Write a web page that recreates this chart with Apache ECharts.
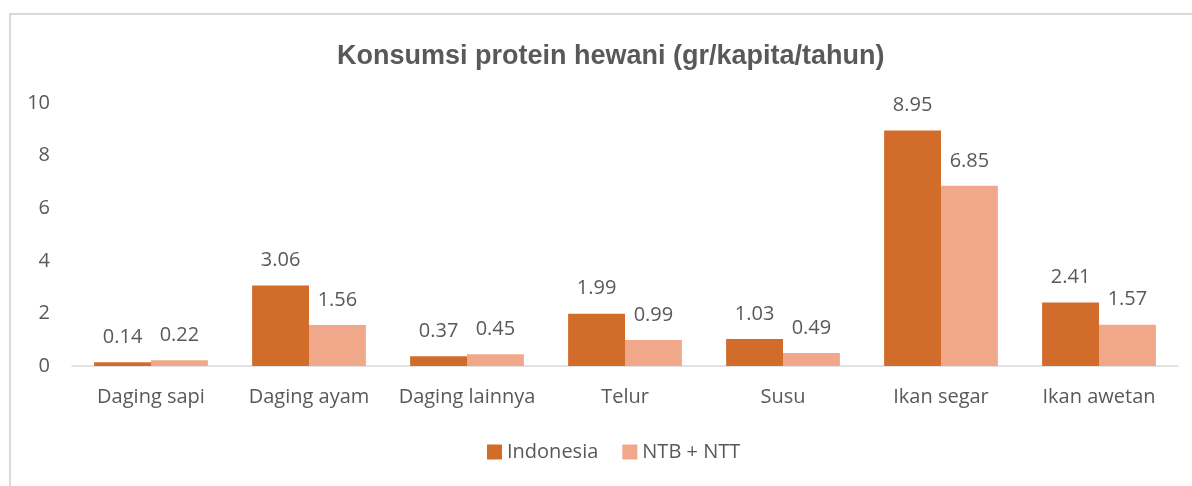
<!DOCTYPE html>
<html>
<head>
<meta charset="utf-8">
<script src="https://cdn.jsdelivr.net/npm/echarts@6/dist/echarts.min.js"></script>
<style>
  html, body { margin: 0; padding: 0; background: #fff; }
  #frame { position: absolute; left: 9px; top: 13px; right: 0; bottom: 0; border-top: 2px solid #d9d9d9; border-left: 2px solid #d9d9d9; }
  #chart { position: absolute; left: 0; top: 0; width: 1192px; height: 486px; }
</style>
</head>
<body>
<div id="frame"></div>
<div id="chart"></div>
<script>
const categories = ['Daging sapi', 'Daging ayam', 'Daging lainnya', 'Telur', 'Susu', 'Ikan segar', 'Ikan awetan']
const indonesia = [0.14, 3.06, 0.37, 1.99, 1.03, 8.95, 2.41]
const ntbNtt = [0.22, 1.56, 0.45, 0.99, 0.49, 6.85, 1.57]
const yTicks = { min: 0, max: 10, interval: 2 }

const FONT = '"Open Sans", "Liberation Sans", sans-serif'
const TEXT = '#595959'

const chart = echarts.init(document.getElementById('chart'))

const labelStyle = {
  show: true,
  position: 'top',
  distance: 15,
  color: TEXT,
  fontFamily: FONT,
  fontSize: 20
}

chart.setOption({
  animation: false,
  title: {
    text: 'Konsumsi protein hewani (gr/kapita/tahun)',
    left: 332,
    top: 38,
    textStyle: { color: TEXT, fontFamily: '"Liberation Sans", Arial, sans-serif', fontSize: 27, fontWeight: 'bold' }
  },
  legend: {
    bottom: 19,
    left: 482,
    itemWidth: 15,
    itemHeight: 15,
    itemGap: 24,
    icon: 'rect',
    textStyle: { color: TEXT, fontFamily: FONT, fontSize: 20 }
  },
  grid: { left: 72, right: 14, top: 103, bottom: 120 },
  xAxis: {
    type: 'category',
    data: categories,
    axisLine: { lineStyle: { color: '#d9d9d9', width: 1.5 } },
    axisTick: { show: false },
    axisLabel: { interval: 0, color: TEXT, fontFamily: FONT, fontSize: 20, margin: 21 }
  },
  yAxis: {
    type: 'value',
    min: yTicks.min,
    max: yTicks.max,
    interval: yTicks.interval,
    splitLine: { show: false },
    axisLine: { show: false },
    axisTick: { show: false },
    axisLabel: { color: TEXT, fontFamily: FONT, fontSize: 20, margin: 22, align: 'right' }
  },
  series: [
    {
      name: 'Indonesia',
      type: 'bar',
      data: indonesia,
      barGap: '0%',
      barCategoryGap: '28%',
      itemStyle: { color: '#d16c2a' },
      label: labelStyle
    },
    {
      name: 'NTB + NTT',
      type: 'bar',
      data: ntbNtt,
      barGap: '0%',
      barCategoryGap: '28%',
      itemStyle: { color: '#f1a88a' },
      label: labelStyle
    }
  ]
})
</script>
</body>
</html>
